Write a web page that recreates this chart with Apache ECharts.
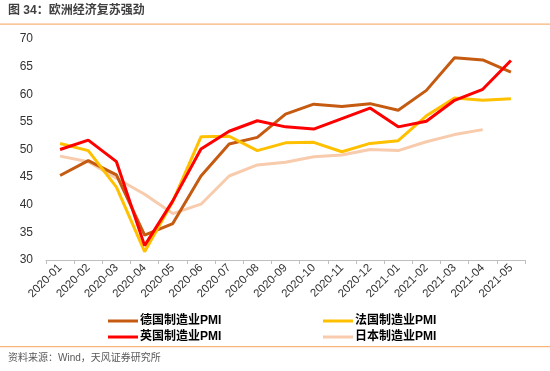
<!DOCTYPE html>
<html><head><meta charset="utf-8">
<script src="https://cdn.jsdelivr.net/npm/echarts@6/dist/echarts.min.js"></script>
<style>html,body{margin:0;padding:0;background:#fff}#c{width:550px;height:371px}</style>
</head><body><div id="c"></div>
<script>
const categories = ['2020-01','2020-02','2020-03','2020-04','2020-05','2020-06','2020-07','2020-08','2020-09','2020-10','2020-11','2020-12','2021-01','2021-02','2021-03','2021-04','2021-05'];
const germany = [45.3,48.0,45.4,34.5,36.6,45.2,51.0,52.2,56.4,58.2,57.8,58.3,57.1,60.7,66.6,66.2,64.0];
const france  = [51.1,49.8,43.2,31.5,40.6,52.3,52.4,49.8,51.2,51.3,49.6,51.1,51.6,56.1,59.3,58.9,59.2];
const uk      = [50.0,51.7,47.8,32.6,40.7,50.1,53.3,55.2,54.1,53.7,55.6,57.5,54.1,55.1,58.9,60.9,66.1];
const japan   = [48.8,47.8,44.8,41.9,38.4,40.1,45.2,47.2,47.7,48.7,49.0,50.0,49.8,51.4,52.7,53.6,null];
const yTicks  = {min:30,max:70,interval:5};
const names = ['德国制造业PMI','法国制造业PMI','英国制造业PMI','日本制造业PMI'];
const colors = ['#C55A11','#FFC000','#FF0000','#F8CBAD'];
const FF = 'Liberation Sans, Arial, Noto Sans CJK SC, sans-serif';

const chart = echarts.init(document.getElementById('c'), null, {renderer:'canvas'});
const mk = (i, data, z) => ({name:names[i], type:'line', data:data, symbol:'none', z:z,
  lineStyle:{width:3, color:colors[i]}, itemStyle:{color:colors[i]}, connectNulls:false});
chart.setOption({
  animation:false,
  textStyle:{fontFamily:FF},
  grid:{left:46,right:25,top:39,bottom:111,containLabel:false},
  xAxis:{type:'category',data:categories,boundaryGap:true,
    axisLine:{lineStyle:{color:'#BFBFBF'}},
    axisTick:{show:true,length:4,lineStyle:{color:'#BFBFBF'}},
    axisLabel:{rotate:45,interval:0,fontSize:11.5,color:'#333',margin:6,fontFamily:FF}},
  yAxis:{type:'value',min:yTicks.min,max:yTicks.max,interval:yTicks.interval,
    axisLine:{show:false},axisTick:{show:false},splitLine:{show:false},
    axisLabel:{fontSize:12,color:'#333',margin:13,fontFamily:FF}},
  legend:[
    {data:[names[0],names[2]],orient:'vertical',left:103,top:310,itemWidth:30,itemHeight:3,itemGap:4,
      icon:'rect',textStyle:{fontSize:12,fontWeight:'bold',color:'#000',fontFamily:FF,padding:[0,0,0,-3]}},
    {data:[names[1],names[3]],orient:'vertical',left:318,top:310,itemWidth:30,itemHeight:3,itemGap:4,
      icon:'rect',textStyle:{fontSize:12,fontWeight:'bold',color:'#000',fontFamily:FF,padding:[0,0,0,-3]}}
  ],
  series:[mk(3,japan,1), mk(0,germany,2), mk(1,france,3), mk(2,uk,4)],
  graphic:[
    {type:'text',left:8,top:5,style:{text:'图 34：欧洲经济复苏强劲',fontSize:12,fontWeight:'bold',fill:'#404040',fontFamily:FF}},
    {type:'rect',shape:{x:0,y:23.5,width:550,height:1.2},style:{fill:'#F8B47A'}},
    {type:'rect',shape:{x:0,y:346,width:550,height:1.2},style:{fill:'#F8B47A'}},
    {type:'text',left:8,top:353,style:{text:'资料来源：Wind，天风证券研究所',fontSize:10,fill:'#595959',fontFamily:FF}}
  ]
});
</script></body></html>
